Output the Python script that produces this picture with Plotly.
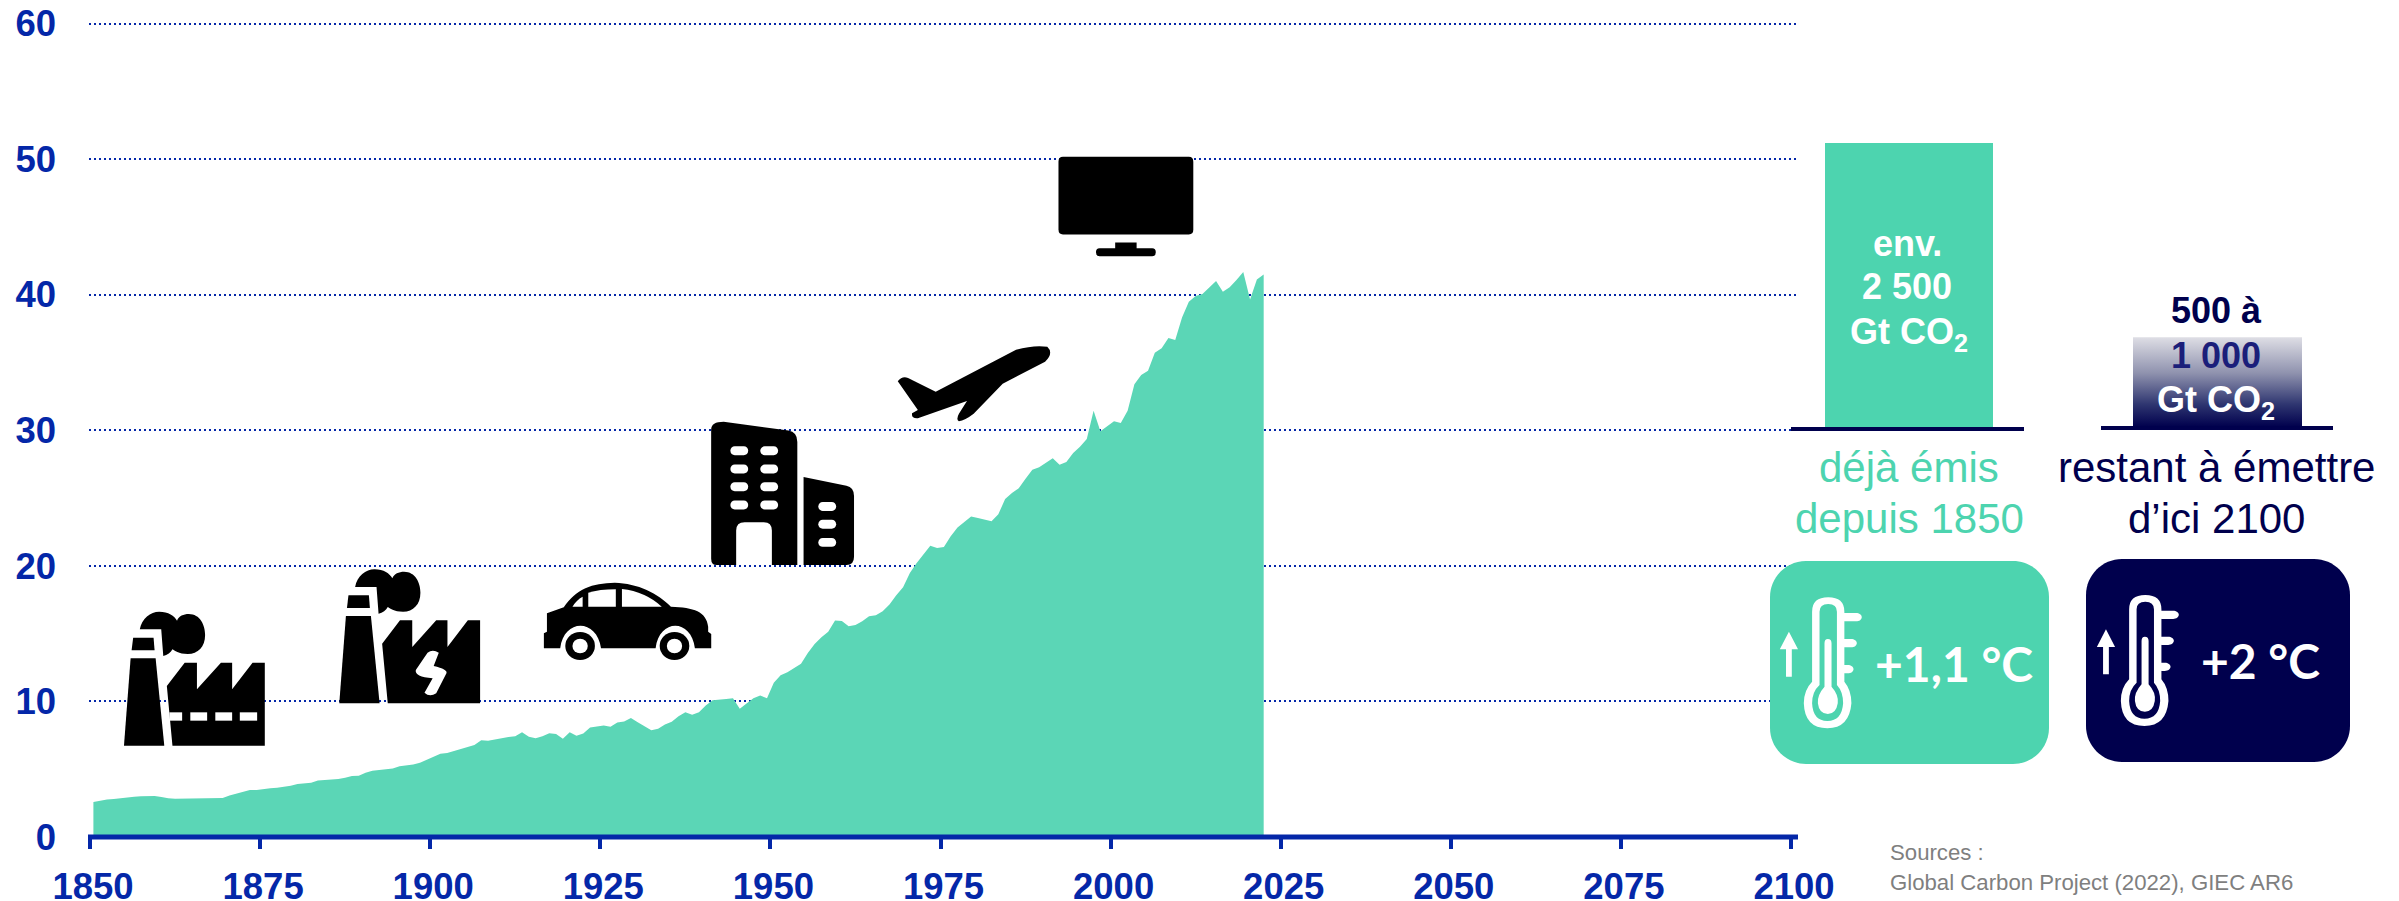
import re
import plotly.graph_objects as go

# ---------- data ----------
years = list(range(1850, 2023))
emissions = [
 2.58,2.70,2.77,2.80,2.87,2.90,2.97,3.00,3.02,3.02,2.95,2.85,2.82,2.82,2.82,2.85,2.82,2.85,2.87,2.87,
 3.07,3.19,3.36,3.46,3.46,3.54,3.59,3.63,3.68,3.78,3.90,3.95,4.00,4.17,4.20,4.25,4.27,4.37,4.49,4.52,
 4.74,4.89,4.94,4.99,5.06,5.21,5.26,5.35,5.48,5.72,
 5.90,6.14,6.20,6.33,6.46,6.63,6.78,7.14,7.10,7.19,7.32,7.37,7.44,7.73,7.39,7.29,7.44,7.66,7.59,7.24,
 7.73,7.46,7.64,8.08,8.15,8.23,8.13,8.45,8.52,8.77,8.47,8.15,7.88,7.98,8.30,8.50,8.91,9.21,9.01,9.21,
 9.70,10.09,10.12,10.17,10.24,9.45,9.85,10.24,10.44,10.24,
 11.37,11.93,12.15,12.45,12.77,13.58,14.24,14.74,15.13,15.96,15.94,15.55,15.64,15.91,16.28,16.36,16.65,17.14,17.83,18.42,
 19.48,20.21,20.88,21.49,21.32,21.39,22.18,22.82,23.24,23.63,23.53,23.43,23.28,23.80,24.93,25.37,25.72,26.43,27.09,27.27,
 27.58,27.93,27.46,27.66,28.32,28.79,29.35,31.44,29.92,30.31,
 30.66,30.54,31.44,33.39,34.07,34.39,35.72,36.04,36.80,36.65,38.32,39.48,39.90,40.04,40.51,41.00,40.22,40.54,41.08,41.67,39.65,41.12,41.49]
x_ticks = [1850, 1875, 1900, 1925, 1950, 1975, 2000, 2025, 2050, 2075, 2100]
y_ticks = [0, 10, 20, 30, 40, 50, 60]
budget_emitted = 2500
budget_remaining_drawn = 790

BLUE = "#0427A8"
AREA = "#5BD6B6"
GREEN = "#4DD4AF"
NAVY = "#00004D"
W, H = 2399, 901
FONT = "Liberation Sans"

fig = go.Figure()

# ---------- main area ----------
fig.add_trace(go.Scatter(x=[y + 0.5 for y in years] + [years[-1] + 0.5], y=emissions + [0],
                         mode="lines", line=dict(width=0, color=AREA), fill="tozeroy",
                         fillcolor=AREA, hoverinfo="skip", xaxis="x", yaxis="y"))

# ---------- right bars ----------
fig.add_trace(go.Bar(x=[1909], y=[budget_emitted], width=[168], marker=dict(color=GREEN, line=dict(width=0)),
                     xaxis="x2", yaxis="y3", hoverinfo="skip"))
fig.add_trace(go.Scatter(x=[2133, 2302, 2302, 2133, 2133],
                         y=[0, 0, budget_remaining_drawn, budget_remaining_drawn, 0],
                         mode="lines", line=dict(width=0), fill="toself",
                         fillgradient=dict(type="vertical",
                                           colorscale=[[0, "#00004D"], [0.25, "#2E3570"], [0.6, "#8F92AE"], [1, "#DEDEE5"]]),
                         xaxis="x2", yaxis="y3", hoverinfo="skip"))

# ---------- axes ----------
y0_px, y60_px = 837.0, 23.5
px_per_unit = (y0_px - y60_px) / 60
top_px = 20.0
ymax = 60 + (y60_px - top_px) / px_per_unit

def xfrac(p): return p / W
def yfrac(p): return (H - p) / H

fig.update_layout(
    template="none",
    width=W, height=H, margin=dict(l=0, r=0, t=0, b=0, pad=0, autoexpand=False), showlegend=False,
    paper_bgcolor="white", plot_bgcolor="rgba(0,0,0,0)",
    font=dict(family=FONT),
    xaxis=dict(domain=[xfrac(89), xfrac(1798)], range=[1849.853, 2101.03], anchor="y", automargin=False,
               tickmode="array", tickvals=x_ticks, ticktext=[str(v) for v in x_ticks],
               showgrid=False, zeroline=False, showline=False,
               ticks="outside", ticklen=11, tickwidth=4, tickcolor=BLUE,
               tickfont=dict(family=FONT, size=36.5, color=BLUE, weight="bold"),
               ticklabelshift=3, ticklabelstandoff=6),
    yaxis=dict(domain=[yfrac(y0_px), yfrac(top_px)], range=[0, ymax], anchor="x", automargin=False,
               tickmode="array", tickvals=y_ticks, ticktext=[str(v) for v in y_ticks],
               showgrid=True, gridcolor=BLUE, gridwidth=2, griddash="2px,3px",
               zeroline=False, showline=False, ticks="",
               tickfont=dict(family=FONT, size=36.5, color=BLUE, weight="bold"),
               ticklabelstandoff=32),
    xaxis2=dict(domain=[0, 1], range=[0, W], anchor="y2", visible=False, fixedrange=True, automargin=False),
    yaxis2=dict(domain=[0, 1], range=[H, 0], anchor="x2", visible=False, fixedrange=True, automargin=False),
    yaxis3=dict(domain=[yfrac(427), yfrac(143)], range=[0, budget_emitted], anchor="x2", visible=False, fixedrange=True, automargin=False),
)
# invisible trace to instantiate the full-page pixel axes
fig.add_trace(go.Scatter(x=[0], y=[0], mode="markers", marker=dict(opacity=0), xaxis="x2", yaxis="y2", hoverinfo="skip"))

# ---------- decorative shapes ----------
shapes = []
def tf(path, fx, fy):
    toks = re.findall(r"[MLQCZ]|-?\d+\.?\d*", path)
    out, i = [], 0
    for t in toks:
        if t in "MLQCZ":
            out.append(t)
        else:
            out.append(f"{fx(float(t)) if i % 2 == 0 else fy(float(t)):.2f}")
            i += 1
    return " ".join(out)

def add(path, color, fx, fy):
    shapes.append(dict(type="path", path=tf(path, fx, fy), xref="x2", yref="y2", fillcolor=color,
                       line=dict(width=0), layer="above"))

def rect_path(x0, y0, x1, y1):
    return f"M {x0} {y0} L {x1} {y0} L {x1} {y1} L {x0} {y1} Z"

def pill(x0, y0, x1, y1):
    r = (y1 - y0) / 2
    rx = r * 1.1
    k = 0.55
    return (f"M {x0+rx} {y0} L {x1-rx} {y0} C {x1-rx*(1-k)} {y0} {x1} {y0+r*(1-k)} {x1} {y0+r} "
            f"C {x1} {y1-r*(1-k)} {x1-rx*(1-k)} {y1} {x1-rx} {y1} "
            f"L {x0+rx} {y1} C {x0+rx*(1-k)} {y1} {x0} {y1-r*(1-k)} {x0} {y0+r} "
            f"C {x0} {y0+r*(1-k)} {x0+rx*(1-k)} {y0} {x0+rx} {y0} Z")

# coordinates of the factories & car
z1x = lambda v: v / 1.96
z1y = lambda v: 380 + v / 3
def off(dx, dy):
    return (lambda v: z1x(v + dx)), (lambda v: z1y(v + dy))

def factory(dx, dy, with_windows):
    fx, fy = off(dx, dy)
    add("M 243 1097 L 322 1097 L 305 835 L 256 835 Z", "black", fx, fy)
    add("M 258 811 L 303 811 L 301 773 L 261 773 Z", "black", fx, fy)
    add("M 274 748 C 278 715 295 695 312 695 C 330 695 342 708 347 722 C 350 708 360 702 370 702 "
        "C 392 702 402 735 402 765 C 402 800 388 822 368 822 C 350 822 342 812 338 808 C 335 818 328 825 320 828 "
        "L 316 748 Z", "black", fx, fy)
    add("M 338 1097 L 519 1097 L 519 848 L 495 848 L 455 928 L 455 848 L 433 848 L 386 928 L 386 848 "
        "L 362 848 L 327 918 Z", "black", fx, fy)
    if with_windows:
        for a, b in [(332, 357), (373, 406), (422, 455), (470, 504)]:
            add(rect_path(a, 997, b, 1022), "white", fx, fy)

factory(0, 0, True)
factory(422, -127, False)
add("M 838 818 Q 848 806 860 818 L 850 858 Q 878 868 875 880 L 855 940 Q 842 952 832 938 L 848 895 "
    "Q 812 890 815 870 Z", "white", z1x, z1y)

# car
add("M 1066 805 L 1066 760 L 1072 755 L 1072 700 L 1105 682 C 1130 625 1160 610 1205 608 C 1250 610 1290 640 1315 680 "
    "C 1360 682 1385 695 1388 740 L 1388 755 L 1394 762 L 1394 805 L 1362 805 C 1355 715 1292 715 1285 805 "
    "L 1178 805 C 1170 715 1105 715 1098 805 Z", "black", z1x, z1y)
for c in ["M 1122 680 L 1142 680 L 1142 650 Q 1130 660 1122 680 Z",
          "M 1153 680 L 1207 680 L 1207 628 Q 1175 628 1153 638 Z",
          "M 1219 680 L 1297 680 Q 1265 635 1219 627 Z"]:
    add(c, "white", z1x, z1y)
for cx in (1137, 1322):
    for rx, ry, col in [(29, 42, "black"), (15, 22, "white")]:
        shapes.append(dict(type="circle", xref="x2", yref="y2", x0=z1x(cx - rx), x1=z1x(cx + rx),
                           y0=z1y(798 - ry), y1=z1y(798 + ry), fillcolor=col, line=dict(width=0), layer="above"))

# building, plane, tv
z2x = lambda v: 650 + v / 2.24
z2y = lambda v: 837 - (1437 - v) / 2.03
add("M 137 885 L 137 610 Q 137 594 165 594 L 310 612 Q 330 615 330 635 L 330 885 L 273 885 L 273 815 Q 273 798 255 798 "
    "L 212 798 Q 193 798 193 815 L 193 885 L 150 885 Q 137 885 137 872 Z", "black", z2x, z2y)
add("M 344 706 L 440 724 Q 457 727 457 745 L 457 868 Q 457 885 440 885 L 344 885 Z", "black", z2x, z2y)
for yc in (653, 690, 726, 763):
    for xa, xb in ((180, 220), (247, 287)):
        add(pill(xa, yc - 9, xb, yc + 9), "white", z2x, z2y)
for yc in (766, 802, 839):
    add(pill(377, yc - 9, 417, yc + 9), "white", z2x, z2y)
add("M 555 512 Q 565 500 578 505 L 640 533 L 820 448 Q 860 438 890 442 Q 905 455 885 472 L 790 517 L 725 578 "
    "Q 705 592 692 593 Q 685 590 692 578 L 710 552 L 600 587 Q 585 588 587 577 L 600 570 Z", "black", z2x, z2y)
add("M 925 56 L 1207 56 Q 1217 56 1217 66 L 1217 204 Q 1217 214 1207 214 L 925 214 Q 915 214 915 204 L 915 66 "
    "Q 915 56 925 56 Z", "black", z2x, z2y)
add("M 1042 230 L 1090 230 L 1090 242 L 1125 242 Q 1133 242 1133 250 Q 1133 258 1125 258 L 1007 258 Q 999 258 999 250 "
    "Q 999 242 1007 242 L 1042 242 Z", "black", z2x, z2y)

# axis line and baselines under the bars
ident = lambda v: v
add(rect_path(88, 834.5, 1798, 839.5), BLUE, ident, ident)
add(rect_path(1791, 427, 2024, 431), NAVY, ident, ident)
add(rect_path(2101, 426, 2333, 430), NAVY, ident, ident)

# rounded boxes
def rrect(x0, y0, x1, y1, r):
    return (f"M {x0+r} {y0} L {x1-r} {y0} C {x1-r*0.45} {y0} {x1} {y0+r*0.45} {x1} {y0+r} L {x1} {y1-r} "
            f"C {x1} {y1-r*0.45} {x1-r*0.45} {y1} {x1-r} {y1} L {x0+r} {y1} C {x0+r*0.45} {y1} {x0} {y1-r*0.45} {x0} {y1-r} "
            f"L {x0} {y0+r} C {x0} {y0+r*0.45} {x0+r*0.45} {y0} {x0+r} {y0} Z")
add(rrect(1770, 561, 2049, 764, 36), GREEN, ident, ident)
add(rrect(2086, 559, 2350, 762, 36), NAVY, ident, ident)

# thermometers
def thermo(dx, dy, bg):
    fx = lambda v: 1750 + (v + dx) / 2.416
    fy = lambda v: 540 + (v + dy) / 3
    for p in [(215, 219, 270, 244), (215, 297, 258, 322), (215, 375, 250, 400)]:
        add(pill(*p), "white", fx, fy)
    add("M 150 425 L 150 215 Q 150 172 189 172 Q 228 172 228 215 L 228 425 Q 245 450 245 490 Q 240 565 187 565 "
        "Q 132 565 130 490 Q 130 450 150 425 Z", "white", fx, fy)
    add("M 168 435 L 168 215 Q 168 192 189 192 Q 210 192 210 215 L 210 435 Q 225 455 225 490 Q 222 543 187 543 "
        "Q 152 543 150 490 Q 150 455 168 435 Z", bg, fx, fy)
    add("M 180 440 L 180 310 Q 180 297 188 297 Q 197 297 197 310 L 197 440 Q 215 465 212 490 Q 208 522 188 522 "
        "Q 167 522 164 490 Q 162 465 180 440 Z", "white", fx, fy)
    add("M 94 275 L 116 328 L 101 328 L 101 410 L 87 410 L 87 328 L 72 328 Z", "white", fx, fy)
thermo(0, 0, GREEN)
thermo(766, -7, NAVY)
fig.update_layout(shapes=shapes)

# ---------- text ----------
def note(text, x, y, size, color, bold=False, family=FONT, xanchor="center"):
    return dict(text=text, x=x, y=y, xref="x2", yref="y2", showarrow=False, xanchor=xanchor, yanchor="middle",
                align="left" if xanchor == "left" else "center",
                font=dict(family=family, size=size, color=color, weight="bold" if bold else "normal"))

fig.update_layout(annotations=[
    note("env.", 1907, 243, 36, "white", True),
    note("2 500", 1907, 286, 36, "white", True),
    note("Gt CO<sub>2</sub>", 1909, 334, 36, "white", True),
    note("500 à", 2216, 310, 36, NAVY, True),
    note("1 000", 2216, 355, 36, "#1B1F7A", True),
    note("Gt CO<sub>2</sub>", 2216, 402, 36, "white", True),
    note("déjà émis", 1909, 467, 42, GREEN),
    note("depuis 1850", 1909, 518, 42, GREEN),
    note("restant à émettre", 2216, 467, 42, NAVY),
    note("d’ici 2100", 2216, 518, 42, NAVY),
    note("+1,1 °C", 1954, 663, 48, "white", True, "Lato"),
    note("+2 °C", 2260, 660, 48, "white", True, "Lato"),
    note("Sources :", 1888, 852, 22.2, "#7F7F7F", xanchor="left"),
    note("Global Carbon Project (2022), GIEC AR6", 1888, 882, 22.2, "#7F7F7F", xanchor="left"),
])

fig.write_html("out.html", config=dict(displayModeBar=False),
               post_script="document.body.style.margin='0';")
